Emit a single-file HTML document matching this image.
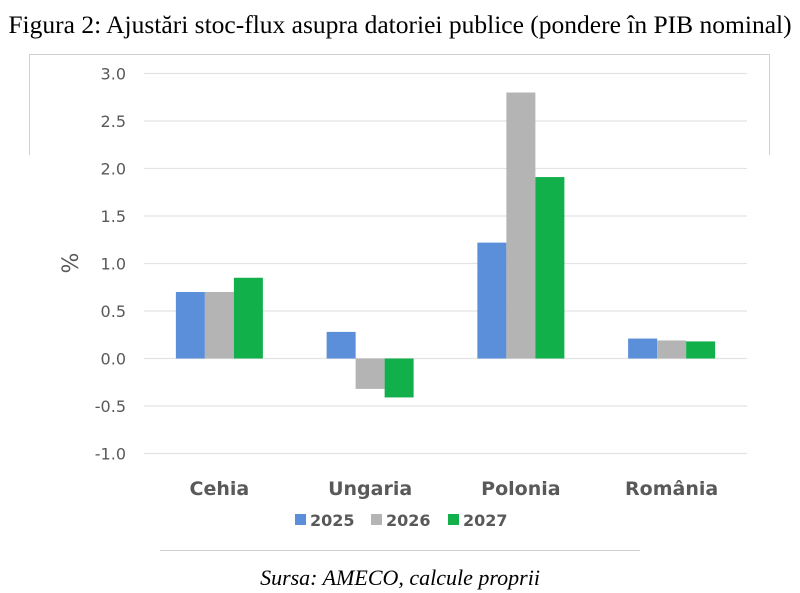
<!DOCTYPE html>
<html><head><meta charset="utf-8"><style>
body{margin:0;background:#fff;width:800px;height:593px;overflow:hidden;position:relative}
svg{position:absolute;left:0;top:0}
</style></head><body>
<svg width="800" height="593">
<text x="400" y="33" text-anchor="middle" font-family="Liberation Serif, serif" font-size="25.5" fill="#000">Figura 2: Ajustări stoc-flux asupra datoriei publice (pondere în PIB nominal)</text>
<g stroke="#d0d0d0" stroke-width="1" fill="none">
<path d="M29.5 155 V54.5 H769.5 V155"/>
<path d="M160 550.5 H640"/>
</g>
<g id="grid"></g>
<g id="yticks"></g>
<text x="0" y="0" transform="translate(78,263) rotate(-90)" text-anchor="middle" font-family="DejaVu Sans, sans-serif" font-size="22" fill="#595959">%</text>
<g id="bars"></g>
<g id="xlabels"></g>
<g id="legend"></g>
<text x="400" y="585" text-anchor="middle" font-family="Liberation Serif, serif" font-style="italic" font-size="22" fill="#000">Sursa: AMECO, calcule proprii</text>
</svg>
<script>
const categories=["Cehia","Ungaria","Polonia","România"];
const seriesNames=["2025","2026","2027"];
const s2025=[0.70,0.28,1.22,0.21];
const s2026=[0.70,-0.32,2.80,0.19];
const s2027=[0.85,-0.41,1.91,0.18];
const yTicks=[3.0,2.5,2.0,1.5,1.0,0.5,0.0,-0.5,-1.0];
const colors=["#5b8fd9","#b4b4b4","#12b04b"];
const NS="http://www.w3.org/2000/svg";
const X0=144,X1=747,Y0=358.5,PX=95;
const y=v=>Y0-v*PX;
const gw=(X1-X0)/categories.length;
const bw=29;
function mk(t,a,p){const e=document.createElementNS(NS,t);for(const k in a)e.setAttribute(k,a[k]);p.appendChild(e);return e;}
const grid=document.getElementById('grid'),yt=document.getElementById('yticks');
yTicks.forEach(v=>{
 const l=mk('line',{x1:X0,x2:X1,y1:y(v),y2:y(v),stroke:'#e3e3e3','stroke-width':1.3},grid);
 
 
 const t=mk('text',{x:126,y:y(v)+6,'text-anchor':'end','font-family':'DejaVu Sans, sans-serif','font-size':16,fill:'#595959'},yt);
 t.textContent=v.toFixed(1);
 
 
});
const series=[s2025,s2026,s2027];
const bars=document.getElementById('bars'),xl=document.getElementById('xlabels');
categories.forEach((c,i)=>{
 const cx=X0+gw*(i+0.5);
 series.forEach((s,j)=>{
  const v=s[i];
  const r=mk('rect',{x:cx-1.5*bw+j*bw,y:Math.min(y(v),Y0),width:bw,height:Math.abs(y(v)-Y0),fill:colors[j]},bars);
  
  
 });
 const t=mk('text',{x:cx,y:495,'text-anchor':'middle','font-family':'DejaVu Sans, sans-serif','font-weight':'bold','font-size':19,fill:'#595959'},xl);
 t.textContent=c;
 
 
});
const lg=document.getElementById('legend');
const lx=[295,371,448];
seriesNames.forEach((n,j)=>{
 const r=mk('rect',{x:lx[j],y:514,width:11,height:11,fill:colors[j]},lg);
 
 
 const t=mk('text',{x:lx[j]+15,y:526,'font-family':'DejaVu Sans, sans-serif','font-weight':'bold','font-size':16,fill:'#595959'},lg);
 t.textContent=n;
 
 
});
</script>
</body></html>
